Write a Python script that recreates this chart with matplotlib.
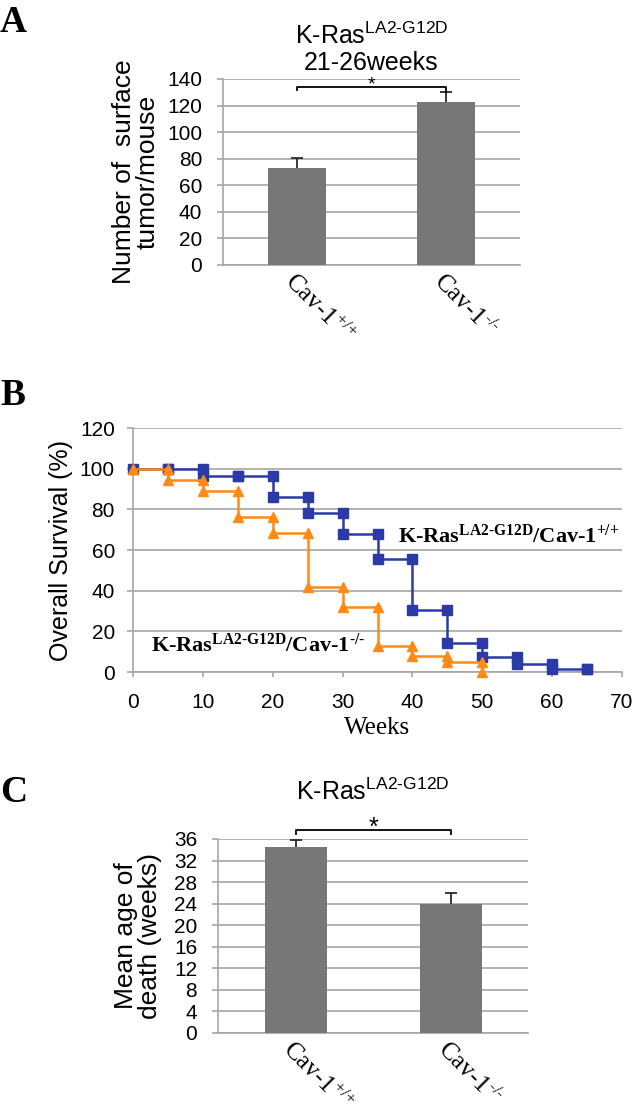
import matplotlib
matplotlib.use("Agg")
import matplotlib.pyplot as plt
import numpy as np
from matplotlib.ticker import MultipleLocator

# ---------------- data ----------------
HY = "\u2010"  # typographic hyphen (mathtext would turn '-' into a minus sign)
group_labels = ["Cav" + HY + "1$^{\\mathdefault{+/{+}}}$",
                "Cav" + HY + "1$^{\\mathdefault{" + HY + "/" + HY + "}}$"]

tumor_mean = [72.8, 122.5]      # number of surface tumors / mouse
tumor_err = [7.5, 7.5]

death_mean = [34.5, 23.9]       # mean age of death (weeks)
death_err = [1.4, 2.0]

weeks_wt = [0, 5, 10, 15, 20, 25, 30, 35, 40, 45, 50, 55, 60, 65]
surv_wt = [100, 100, 96.4, 96.4, 85.9, 78.4, 67.9, 55.4, 30.4, 14.1, 7.5, 3.7, 1.3, 1.3]

weeks_ko = [0, 5, 10, 15, 20, 25, 30, 35, 40, 45, 50]
surv_ko = [100, 94.4, 89.2, 76.1, 68.2, 42.0, 31.8, 12.9, 7.9, 4.8, 0]

title_a = ["K" + HY + "Ras$^{\\mathdefault{LA2" + HY + "G12D}}$", "21-26weeks"]
title_c = "K" + HY + "Ras$^{\\mathdefault{LA2" + HY + "G12D}}$"
label_wt = "K" + HY + "Ras$^{\\mathdefault{LA2" + HY + "G12D}}$/Cav" + HY + "1$^{\\mathdefault{+/{+}}}$"
label_ko = "K" + HY + "Ras$^{\\mathdefault{LA2" + HY + "G12D}}$/Cav" + HY + "1$^{\\mathdefault{" + HY + "/" + HY + "}}$"

# ---------------- style ----------------
W, H = 633, 1104
SANS = "Liberation Sans"
SERIF = "Liberation Serif"
GRID = "#a6a6a6"
BAR = "#777777"
BLUE = "#2b3aa6"
ORANGE = "#ff8a15"
ERR = "#2a2a2a"

plt.rcParams["font.family"] = [SANS, "DejaVu Sans"]
plt.rcParams["mathtext.fontset"] = "custom"
plt.rcParams["mathtext.rm"] = SANS
plt.rcParams["mathtext.default"] = "regular"

fig = plt.figure(figsize=(W / 100, H / 100), dpi=100)


def rect(l, t, r, b):
    return [l / W, 1 - b / H, (r - l) / W, (b - t) / H]


def style_axes(ax, ytick_pad):
    for s in ["top", "right"]:
        ax.spines[s].set_visible(False)
    for s in ["left", "bottom"]:
        ax.spines[s].set_color(GRID)
        ax.spines[s].set_linewidth(1.2)
    ax.grid(axis="y", color=GRID, lw=1.2, zorder=0)
    ax.set_axisbelow(True)
    ax.tick_params(axis="y", length=4.5, width=1.2, color=GRID, pad=ytick_pad,
                   labelsize=15)
    for t in ax.get_yticklabels():
        t.set_fontfamily(SANS)


def bar_panel(ax, means, errs, ymax, ystep, width):
    x = np.arange(len(means))
    tops = np.asarray(means) + np.asarray(errs)
    ax.bar(x, means, width=width, color=BAR, zorder=3)
    # plus-only error bars (stem + top cap)
    ax.vlines(x, means, tops, color=ERR, lw=1.3, zorder=4)
    ax.plot(x, tops, ls="none", marker="_", ms=9, mew=1.3, color=ERR, zorder=4)
    ax.set_xlim(-0.5, len(means) - 0.5)
    ax.set_ylim(0, ymax)
    ax.yaxis.set_major_locator(MultipleLocator(ystep))
    style_axes(ax, 10.5)
    ax.set_xticks(x)
    ax.set_xticklabels(group_labels, rotation=-45, ha="left", va="top",
                       rotation_mode="anchor", fontfamily=SERIF, fontsize=18)
    ax.tick_params(axis="x", length=0, pad=3)
    return x


# ---------------- panel A ----------------
axA = fig.add_axes(rect(223, 79, 520, 265))
xa = bar_panel(axA, tumor_mean, tumor_err, 140, 20, 0.39)
axA.plot([xa[0], xa[0], xa[1], xa[1]], [131.6, 134, 134, 130.2], color="black",
         lw=1.3, clip_on=False, zorder=5)
axA.text(0.5, 135.8, "*", ha="center", va="center", fontsize=14, fontfamily=SANS)
axA.text(-0.293, 0.5, "Number of  surface\ntumor/mouse", transform=axA.transAxes,
         rotation=90, ha="center", va="center", fontsize=19, fontfamily=SANS,
         multialignment="center", linespacing=0.95)
fig.text(371.5 / W, 1 - 43.5 / H, title_a[0], ha="center", va="baseline",
         fontsize=18, fontfamily=SANS)
fig.text(371.5 / W, 1 - 70.5 / H, title_a[1], ha="center", va="baseline",
         fontsize=18, fontfamily=SANS)
fig.text(0.0, 1 - 32 / H, "A", ha="left", va="baseline", fontsize=27,
         fontweight="bold", fontfamily=SERIF)

# ---------------- panel B ----------------
axB = fig.add_axes(rect(133, 428, 622, 672))


def km_vertices(weeks, surv):
    xs, ys = [weeks[0]], [surv[0]]
    for i in range(1, len(weeks)):
        xs += [weeks[i], weeks[i]]
        ys += [surv[i - 1], surv[i]]
    return xs, ys


bx, by = km_vertices(weeks_wt, surv_wt)
ox, oy = km_vertices(weeks_ko, surv_ko)
axB.plot(bx, by, color=BLUE, lw=1.8, marker="s", ms=7, mec=BLUE, mfc=BLUE,
         zorder=3, clip_on=False)
axB.plot(ox, oy, color=ORANGE, lw=1.8, marker="^", ms=7.5, mec=ORANGE, mfc=ORANGE,
         zorder=4, clip_on=False)
axB.set_xlim(0, 70)
axB.set_ylim(0, 120)
axB.xaxis.set_major_locator(MultipleLocator(10))
axB.yaxis.set_major_locator(MultipleLocator(20))
style_axes(axB, 8.5)
axB.tick_params(axis="x", length=3.6, width=1.2, color=GRID, pad=11.5, labelsize=15)
axB.text(0.5, -(728 - 672) / 244, "Weeks", transform=axB.transAxes, ha="center",
         va="center", fontsize=18, fontfamily=SERIF)
axB.text(-0.147, 0.5, "Overall Survival (%)", transform=axB.transAxes, rotation=90,
         ha="center", va="center", fontsize=18, fontfamily=SANS)
axB.text(37.9, 63.4, label_wt, ha="left", va="baseline", fontsize=16,
         fontweight="bold", fontfamily=SERIF)
axB.text(2.6, 9.8, label_ko, ha="left", va="baseline", fontsize=16,
         fontweight="bold", fontfamily=SERIF)
fig.text(0.0, 1 - 405 / H, "B", ha="left", va="baseline", fontsize=27,
         fontweight="bold", fontfamily=SERIF)

# ---------------- panel C ----------------
axC = fig.add_axes(rect(218, 839, 528, 1033))
xc = bar_panel(axC, death_mean, death_err, 36, 4, 0.40)
axC.plot([xc[0], xc[0], xc[1], xc[1]], [36.9, 37.7, 37.7, 36.9], color="black",
         lw=1.3, clip_on=False, zorder=5)
axC.text(0.5, 38.0, "*", ha="center", va="center", fontsize=18, fontfamily=SANS)
axC.text(-0.258, 0.5, "Mean age of\ndeath (weeks)", transform=axC.transAxes,
         rotation=90, ha="center", va="center", fontsize=19, fontfamily=SANS,
         multialignment="center", linespacing=0.95)
fig.text(373 / W, 1 - 800 / H, title_c, ha="center", va="baseline", fontsize=18,
         fontfamily=SANS)
fig.text(0.0, 1 - 802 / H, "C", ha="left", va="baseline", fontsize=27,
         fontweight="bold", fontfamily=SERIF)

fig.savefig("out.png", dpi=100)
